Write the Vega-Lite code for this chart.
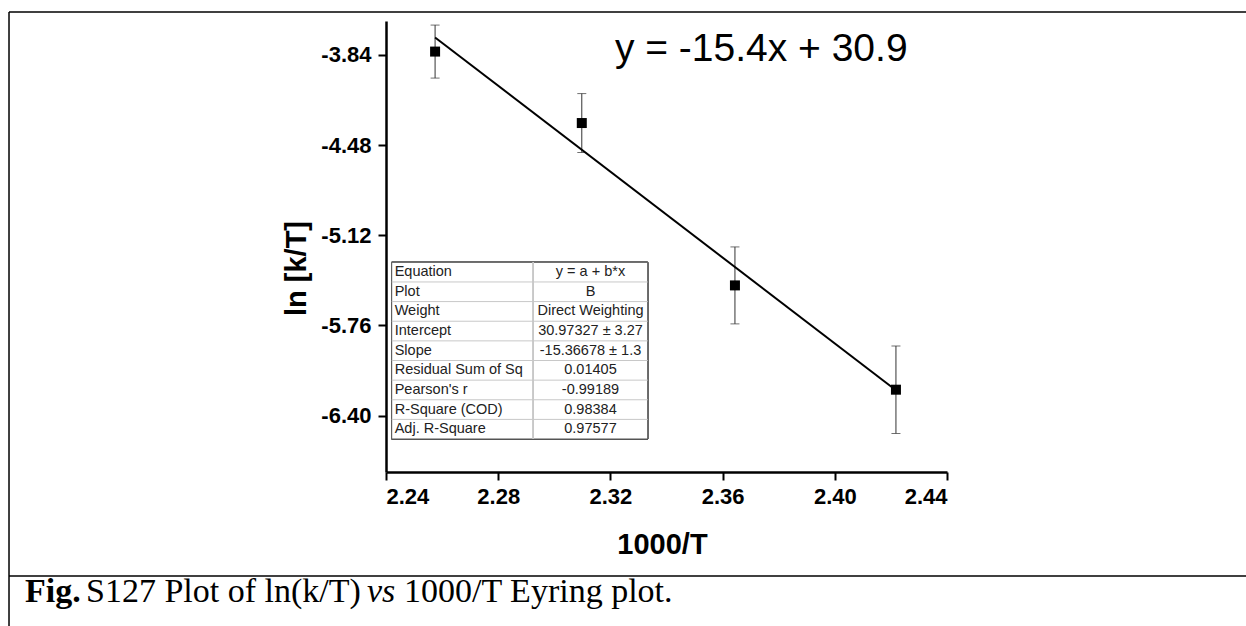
{
  "$schema": "https://vega.github.io/schema/vega-lite/v6.json",
  "width": 561,
  "height": 451,
  "autosize": {"type": "none"},
  "padding": {"left": 386, "top": 21, "right": 299, "bottom": 154},
  "background": "white",
  "config": {
    "view": {"stroke": null},
    "font": "Liberation Sans",
    "axis": {
      "domainColor": "black", "domainWidth": 2.5, "tickColor": "black", "tickWidth": 2, "tickSize": 8,
      "labelFont": "Liberation Sans", "labelFontSize": 22, "labelFontWeight": "bold", "labelColor": "black",
      "titleFont": "Liberation Sans", "titleFontSize": 29, "titleFontWeight": "bold", "titleColor": "black",
      "grid": false
    }
  },
  "datasets": {
    "points": [
      {"x": 2.2575, "y": -3.817, "err": 0.188},
      {"x": 2.3098, "y": -4.324, "err": 0.209},
      {"x": 2.3644, "y": -5.476, "err": 0.273},
      {"x": 2.4218, "y": -6.216, "err": 0.31}
    ],
    "fit": [
      {"x": 2.2575, "y": -3.717},
      {"x": 2.4218, "y": -6.22}
    ],
    "table": [
      {"row": 0, "label": "Equation", "value": "y = a + b*x"},
      {"row": 1, "label": "Plot", "value": "B"},
      {"row": 2, "label": "Weight", "value": "Direct Weighting"},
      {"row": 3, "label": "Intercept", "value": "30.97327 ± 3.27"},
      {"row": 4, "label": "Slope", "value": "-15.36678 ± 1.3"},
      {"row": 5, "label": "Residual Sum of Sq", "value": "0.01405"},
      {"row": 6, "label": "Pearson's r", "value": "-0.99189"},
      {"row": 7, "label": "R-Square (COD)", "value": "0.98384"},
      {"row": 8, "label": "Adj. R-Square", "value": "0.97577"}
    ]
  },
  "layer": [
    {
      "layer": [
        {
          "data": {"name": "points"},
          "mark": {"type": "errorbar", "ticks": {"size": 9, "thickness": 1, "color": "#333"}, "rule": {"color": "#333", "strokeWidth": 1}},
          "encoding": {
            "x": {"field": "x", "type": "quantitative", "title": "1000/T",
                  "scale": {"domain": [2.24, 2.44], "nice": false, "zero": false},
                  "axis": {"values": [2.24, 2.28, 2.32, 2.36, 2.4, 2.44], "format": ".2f", "labelPadding": 6, "titleBaseline": "alphabetic", "titleY": 81, "titleX": 276}},
            "y": {"field": "y", "type": "quantitative", "title": "ln [k/T]",
                  "scale": {"domain": [-6.8, -3.6], "nice": false, "zero": false},
                  "axis": {"values": [-3.84, -4.48, -5.12, -5.76, -6.4], "labelExpr": "replace(format(datum.value, '.2f'), '\u2212', '-')", "labelPadding": 7, "titleAngle": -90, "titleAlign": "center", "titleBaseline": "alphabetic", "titleX": -81, "titleY": 247}},
            "yError": {"field": "err"}
          }
        },
        {
          "data": {"name": "fit"},
          "mark": {"type": "line", "color": "black", "strokeWidth": 2},
          "encoding": {
            "x": {"field": "x", "type": "quantitative"},
            "y": {"field": "y", "type": "quantitative"}
          }
        },
        {
          "data": {"name": "points"},
          "mark": {"type": "point", "shape": "square", "filled": true, "color": "black", "opacity": 1, "size": 100},
          "encoding": {
            "x": {"field": "x", "type": "quantitative"},
            "y": {"field": "y", "type": "quantitative"}
          }
        },
        {
          "data": {"values": [{"t": "y = -15.4x + 30.9"}]},
          "mark": {"type": "text", "align": "left", "baseline": "alphabetic", "fontSize": 39, "font": "Liberation Sans", "color": "black"},
          "encoding": {
            "x": {"datum": 2.3216},
            "y": {"datum": -3.8826},
            "text": {"field": "t"}
          }
        },
        {
          "data": {"values": [{}]},
          "mark": {"type": "rule", "color": "black", "strokeWidth": 1.5},
          "encoding": {"x": {"datum": 2.1056}, "x2": {"datum": 2.6}, "y": {"datum": -3.5362}}
        },
        {
          "data": {"values": [{}]},
          "mark": {"type": "rule", "color": "black", "strokeWidth": 1.5},
          "encoding": {"x": {"datum": 2.1056}, "x2": {"datum": 2.6}, "y": {"datum": -7.5376}}
        },
        {
          "data": {"values": [{}]},
          "mark": {"type": "rule", "color": "black", "strokeWidth": 1.5},
          "encoding": {"x": {"datum": 2.1056}, "y": {"datum": -3.5362}, "y2": {"datum": -7.95}}
        },
        {
          "data": {"values": [{"t": "Fig."}]},
          "mark": {"type": "text", "align": "left", "baseline": "alphabetic", "fontSize": 34, "font": "Liberation Serif", "fontWeight": "bold", "color": "black"},
          "encoding": {"x": {"datum": 2.1113}, "y": {"datum": -7.722}, "text": {"field": "t"}}
        },
        {
          "data": {"values": [{"t": "S127 Plot of ln(k/T)"}]},
          "mark": {"type": "text", "align": "left", "baseline": "alphabetic", "fontSize": 34, "font": "Liberation Serif", "color": "black"},
          "encoding": {"x": {"datum": 2.13305}, "y": {"datum": -7.722}, "text": {"field": "t"}}
        },
        {
          "data": {"values": [{"t": "vs"}]},
          "mark": {"type": "text", "align": "left", "baseline": "alphabetic", "fontSize": 34, "font": "Liberation Serif", "fontStyle": "italic", "color": "black"},
          "encoding": {"x": {"datum": 2.23323}, "y": {"datum": -7.722}, "text": {"field": "t"}}
        },
        {
          "data": {"values": [{"t": "1000/T Eyring plot."}]},
          "mark": {"type": "text", "align": "left", "baseline": "alphabetic", "fontSize": 34, "font": "Liberation Serif", "color": "black"},
          "encoding": {"x": {"datum": 2.24642}, "y": {"datum": -7.722}, "text": {"field": "t"}}
        }
      ]
    },
    {
      "data": {"name": "table"},
      "layer": [
        {
          "mark": {"type": "rect", "fill": "white", "stroke": "#555", "strokeWidth": 1},
          "encoding": {
            "x": {"datum": 2.24203}, "x2": {"datum": 2.3333},
            "y": {"datum": -0.5, "type": "quantitative", "scale": {"domain": [-12.79, 10.18], "reverse": true, "nice": false, "zero": false}, "axis": null},
            "y2": {"datum": 8.5}
          }
        },
        {
          "transform": [{"filter": "datum.row > 0"}],
          "mark": {"type": "rule", "color": "#c8c8c8", "strokeWidth": 1, "yOffset": -9.8},
          "encoding": {
            "x": {"datum": 2.24203}, "x2": {"datum": 2.3333},
            "y": {"field": "row", "type": "quantitative", "axis": null}
          }
        },
        {
          "mark": {"type": "rule", "color": "#c8c8c8", "strokeWidth": 1},
          "encoding": {
            "x": {"datum": 2.29251},
            "y": {"datum": -0.5, "type": "quantitative", "axis": null}, "y2": {"datum": 8.5}
          }
        },
        {
          "mark": {"type": "text", "align": "left", "baseline": "middle", "dx": 3, "fontSize": 14.5, "font": "Liberation Sans", "color": "#222"},
          "encoding": {
            "x": {"datum": 2.24203},
            "y": {"field": "row", "type": "quantitative", "axis": null},
            "text": {"field": "label"}
          }
        },
        {
          "mark": {"type": "text", "align": "center", "baseline": "middle", "fontSize": 14.5, "font": "Liberation Sans", "color": "#222"},
          "encoding": {
            "x": {"datum": 2.3129},
            "y": {"field": "row", "type": "quantitative", "axis": null},
            "text": {"field": "value"}
          }
        }
      ]
    }
  ],
  "resolve": {"scale": {"y": "independent"}}
}
